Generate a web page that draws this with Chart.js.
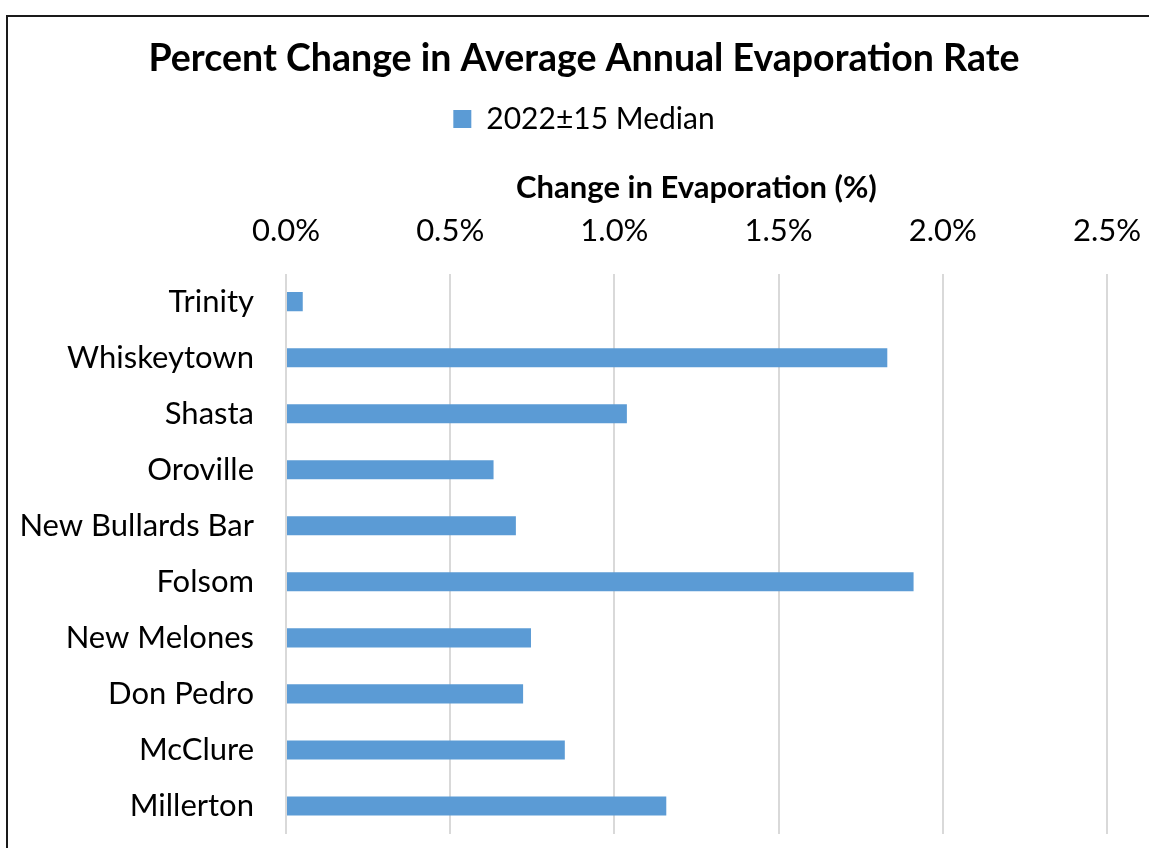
<!DOCTYPE html>
<html>
<head>
<meta charset="utf-8">
<script src="https://cdn.jsdelivr.net/npm/chart.js@4.4.1/dist/chart.umd.min.js"></script>
<style>
html,body{margin:0;padding:0;background:#fff;}
#wrap{position:relative;width:1149px;height:848px;}
</style>
</head>
<body>
<div id="wrap"><canvas id="c" width="1149" height="848"></canvas></div>
<script>
const categories = ["Trinity","Whiskeytown","Shasta","Oroville","New Bullards Bar","Folsom","New Melones","Don Pedro","McClure","Millerton"];
const medianValues = [0.051,1.831,1.038,0.632,0.700,1.911,0.746,0.722,0.849,1.158];
const seriesName = "2022\u00b115 Median";
const xTicks = [0,0.5,1.0,1.5,2.0,2.5];

const FONT = "Lato, 'Open Sans', sans-serif";

const borderPlugin = {
  id: 'frame',
  afterDraw(chart){
    const ctx = chart.ctx;
    ctx.save();
    ctx.strokeStyle = '#1a1a1a';
    ctx.lineWidth = 2;
    ctx.beginPath();
    ctx.moveTo(7, 848);
    ctx.lineTo(7, 16);
    ctx.lineTo(1149, 16);
    ctx.stroke();
    ctx.restore();
  }
};

new Chart(document.getElementById('c'), {
  type: 'bar',
  data: {
    labels: categories,
    datasets: [{
      label: seriesName,
      data: medianValues,
      backgroundColor: '#5B9BD5',
      borderWidth: 0,
      barPercentage: 0.68,
      categoryPercentage: 0.5
    }]
  },
  options: {
    indexAxis: 'y',
    responsive: false,
    animation: false,
    devicePixelRatio: 1,
    layout: { padding: { top: 22, left: 19, right: 0, bottom: 14 } },
    plugins: {
      title: {
        display: true,
        text: 'Percent Change in Average Annual Evaporation Rate',
        color: '#000',
        font: { family: FONT, size: 37.5, weight: 'bold' },
        padding: { top: 14, bottom: 13 }
      },
      legend: {
        display: true,
        labels: {
          color: '#000',
          font: { family: FONT, size: 30 },
          boxWidth: 18,
          boxHeight: 18,
          padding: 10
        }
      },
      tooltip: { enabled: false }
    },
    scales: {
      x: {
        position: 'top',
        min: 0,
        max: 2.5,
        afterBuildTicks(scale){ scale.ticks = xTicks.map(v => ({value: v})); },
        afterFit(scale){ scale.height = 129.6; scale.paddingLeft = 0; scale.paddingRight = 42; },
        ticks: {
          color: '#000',
          font: { family: FONT, size: 31 },
          padding: 24,
          callback: (v) => Number(v).toFixed(1) + '%'
        },
        grid: { color: '#d9d9d9', lineWidth: 2, drawTicks: false },
        border: { display: false },
        title: {
          display: true,
          text: 'Change in Evaporation (%)',
          color: '#000',
          font: { family: FONT, size: 31, weight: 'bold' },
          padding: { top: 25, bottom: 4 }
        }
      },
      y: {
        afterFit(scale){ scale.width = 267; scale.paddingTop = 0; scale.paddingBottom = 0; },
        ticks: {
          color: '#000',
          font: { family: FONT, size: 31 },
          padding: 32
        },
        grid: { display: false, drawTicks: false },
        border: { display: false }
      }
    }
  },
  plugins: [borderPlugin]
});
</script>
</body>
</html>
